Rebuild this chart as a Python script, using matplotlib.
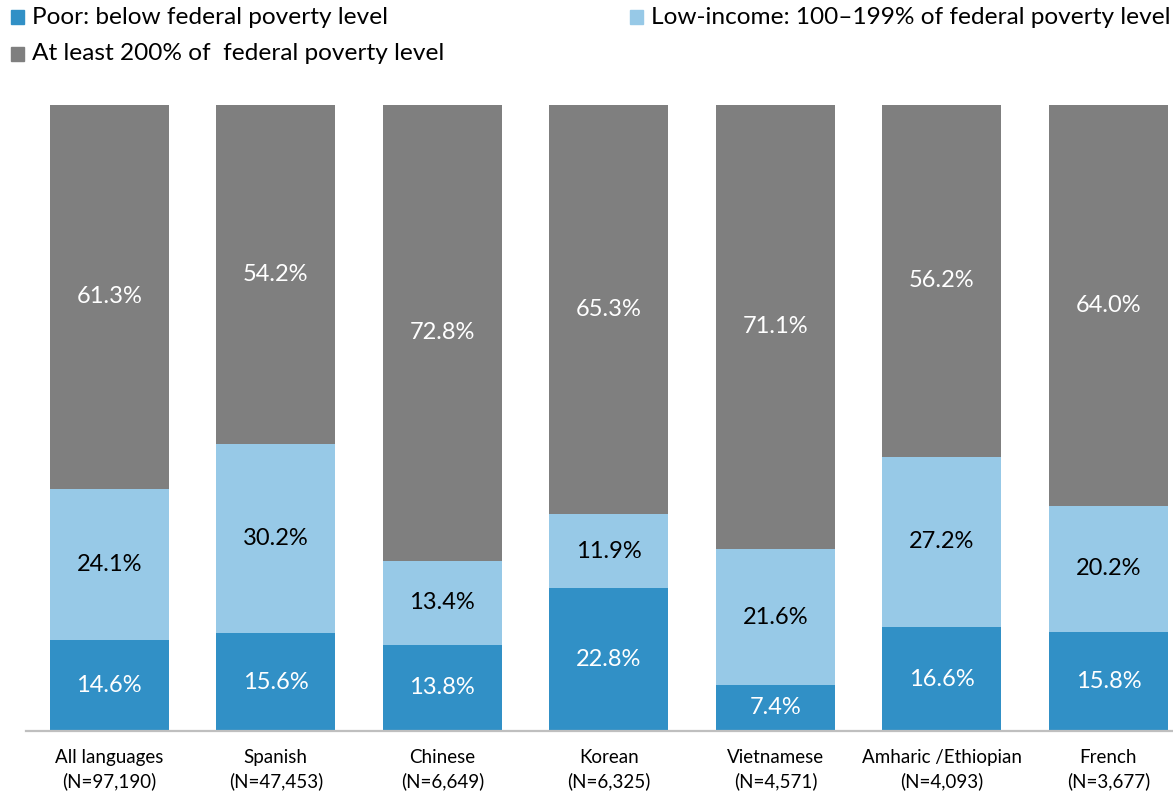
import matplotlib
matplotlib.use("Agg")
import matplotlib.pyplot as plt
from matplotlib.patches import Rectangle
import numpy as np

plt.rcParams['font.family'] = ['Lato', 'DejaVu Sans']

categories = ["All languages\n(N=97,190)", "Spanish\n(N=47,453)", "Chinese\n(N=6,649)",
              "Korean\n(N=6,325)", "Vietnamese\n(N=4,571)", "Amharic /Ethiopian\n(N=4,093)",
              "French\n(N=3,677)"]
poor = [14.6, 15.6, 13.8, 22.8, 7.4, 16.6, 15.8]
low_income = [24.1, 30.2, 13.4, 11.9, 21.6, 27.2, 20.2]
at_least_200 = [61.3, 54.2, 72.8, 65.3, 71.1, 56.2, 64.0]
series_names = ["Poor: below federal poverty level",
                "Low-income: 100\u2013199% of federal poverty level",
                "At least 200% of  federal poverty level"]

c_poor = "#3190c6"
c_low = "#97c9e7"
c_high = "#7f7f7f"

W, H = 1173, 796
fig = plt.figure(figsize=(W / 100, H / 100), dpi=100)
ax = fig.add_axes([26 / W, (H - 731) / H, (W - 26) / W, 626 / H])

x = np.arange(len(categories))
bw = 0.715
poor_a = np.array(poor)
low_a = np.array(low_income)
high_a = np.array(at_least_200)
ax.bar(x, poor_a, bw, color=c_poor)
ax.bar(x, low_a, bw, bottom=poor_a, color=c_low)
ax.bar(x, high_a, bw, bottom=poor_a + low_a, color=c_high)

fs = 17
for i in range(len(x)):
    ax.text(x[i], poor_a[i] / 2, f"{poor_a[i]:.1f}%", ha='center', va='center',
            color='white', fontsize=fs)
    ax.text(x[i], poor_a[i] + low_a[i] / 2, f"{low_a[i]:.1f}%", ha='center', va='center',
            color='black', fontsize=fs)
    ax.text(x[i], poor_a[i] + low_a[i] + high_a[i] / 2, f"{high_a[i]:.1f}%", ha='center',
            va='center', color='white', fontsize=fs)

ax.set_xlim(-0.5, (W - 109.5) / 166.5)
ax.set_ylim(0, 100)
ax.set_xticks(x)
ax.set_xticklabels(categories, fontsize=13.5, linespacing=1.4)
ax.tick_params(axis='x', length=0, pad=13)
ax.set_yticks([])
for s in ['top', 'right', 'left']:
    ax.spines[s].set_visible(False)
ax.spines['bottom'].set_color('#bfbfbf')
ax.spines['bottom'].set_linewidth(1.6)

# legend (manual)
def legend_item(px, py, color, label):
    fig.patches.append(Rectangle((px / W, 1 - (py + 7) / H), 13 / W, 14 / H,
                                 transform=fig.transFigure, color=color))
    fig.text((px + 21) / W, 1 - py / H, label, fontsize=17.6, va='center', ha='left')

legend_item(11, 17, c_poor, series_names[0])
legend_item(630, 17, c_low, series_names[1])
legend_item(11, 54, c_high, series_names[2])

fig.savefig("out.png", dpi=100)
